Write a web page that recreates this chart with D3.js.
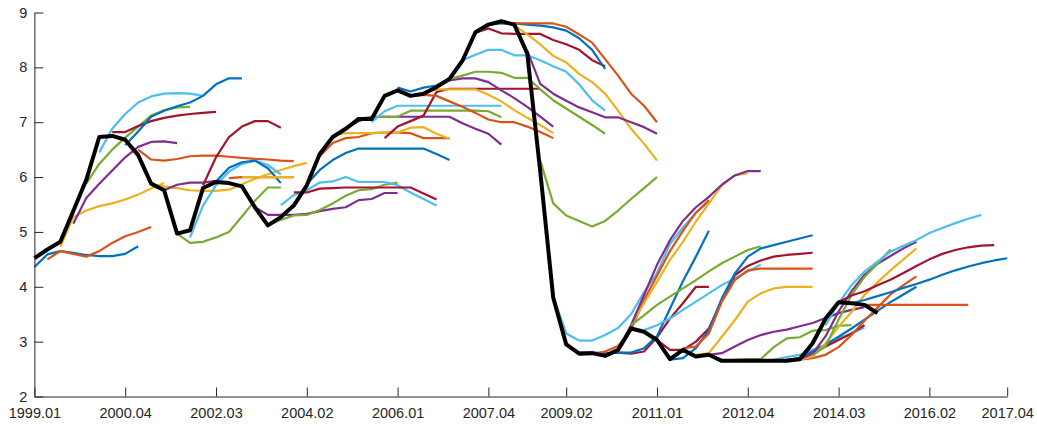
<!DOCTYPE html>
<html><head><meta charset="utf-8">
<script src="https://cdn.jsdelivr.net/npm/d3@7"></script>
<style>
html,body{margin:0;padding:0;background:#fff;}
svg{display:block;}
text{font-family:"Liberation Sans",Arial,Helvetica,sans-serif;}
</style></head>
<body>
<svg id="chart" width="1037" height="426"></svg>
<script>
// X tick positions (quarter index from 1999Q1) and labels
const tickQuarters = [0,7,14,21,28,35,41,48,55,62,69,75];
const tickLabels = ["1999.01","2000.04","2002.03","2004.02","2006.01","2007.04","2009.02","2011.01","2012.04","2014.03","2016.02","2017.04"];
const yTicks = [2,3,4,5,6,7,8,9];

// Actual rate (black), quarterly from 1999Q1
const actual = [4.52,4.68,4.82,5.38,5.95,6.73,6.75,6.68,6.4,5.88,5.76,4.97,5.03,5.8,5.91,5.89,5.83,5.45,5.12,5.27,
  5.48,5.85,6.42,6.73,6.88,7.06,7.06,7.48,7.58,7.48,7.52,7.64,7.79,8.12,8.64,8.78,8.84,8.78,8.25,6.1,
  3.8,2.95,2.78,2.79,2.74,2.85,3.24,3.18,3.03,2.68,2.85,2.73,2.76,2.65,2.65,2.65,2.65,2.65,2.65,2.68,
  2.97,3.42,3.72,3.7,3.67,3.52];

// Forecast tracks: start quarter of each track and its values
const forecastStart = [];
for (let k = 0; k <= 64; k++) forecastStart.push(k);
const forecastValues = [
  [4.36,4.59,4.65,4.62,4.58,4.56,4.56,4.6,4.74],
  [4.5,4.65,4.6,4.55,4.65,4.8,4.92,5.0,5.09],
  [4.73,5.27,5.39,5.47,5.52,5.59,5.68,5.79,5.89],
  [5.15,5.62,5.88,6.12,6.36,6.55,6.64,6.65,6.62],
  [5.88,6.24,6.5,6.72,6.92,7.12,7.22,7.27,7.28],
  [6.45,6.88,7.15,7.36,7.47,7.52,7.53,7.52,7.48],
  [6.82,6.82,6.93,7.02,7.08,7.12,7.15,7.17,7.19],
  [6.58,6.83,7.1,7.21,7.29,7.36,7.48,7.69,7.8,7.8],
  [6.5,6.32,6.3,6.33,6.38,6.39,6.39,6.37,6.35,6.33,6.32,6.3,6.29],
  [5.87,5.83,5.8,5.76,5.75,5.75,5.77,5.87,5.97,6.05,6.13,6.2,6.26],
  [5.76,5.86,5.9,5.9,5.93],
  [4.97,4.8,4.82,4.9,5.0,5.28,5.57,5.81,5.81],
  [4.9,5.48,5.85,6.1,6.24,6.3,6.22,6.05],
  [5.85,6.36,6.73,6.92,7.02,7.02,6.9],
  [5.92,6.17,6.27,6.3,6.16,5.89],
  [5.98,6.0,6.0,6.0,6.0,6.0],
  [6.0,6.0,6.0,6.0,6.0],
  [5.45,5.31,5.31,5.31,5.33,5.38,5.42,5.45,5.58,5.6,5.71,5.71],
  [5.12,5.22,5.3,5.31,5.4,5.52,5.66,5.76,5.78,5.86,5.9],
  [5.49,5.67,5.76,5.9,5.92,6.0,5.91,5.91,5.91,5.85,5.72,5.6,5.48],
  [5.72,5.72,5.79,5.8,5.81,5.81,5.81,5.81,5.81,5.81,5.7,5.59],
  [5.87,6.13,6.31,6.44,6.52,6.52,6.52,6.52,6.52,6.52,6.42,6.31],
  [6.38,6.62,6.71,6.73,6.8,6.81,6.81,6.8,6.71,6.71,6.71],
  [6.76,6.8,6.8,6.8,6.81,6.81,6.9,6.91,6.79,6.7],
  [6.88,7.02,7.1,7.1,7.1,7.1,7.1,7.1,7.1,6.98,6.88,6.79,6.59],
  [7.06,7.1,7.1,7.1,7.21,7.21,7.21,7.21,7.21,7.21,7.2,7.09],
  [7.0,7.2,7.3,7.3,7.3,7.3,7.3,7.3,7.3,7.3,7.3],
  [6.71,6.92,7.02,7.12,7.55,7.61,7.61,7.61,7.61,7.61,7.61,7.61,7.61],
  [7.63,7.56,7.63,7.67,7.8],
  [7.48,7.5,7.48,7.38,7.28,7.17,7.05,7.0,7.0,6.92,6.82,6.71],
  [7.55,7.6,7.6,7.6,7.6,7.5,7.38,7.22,7.08,6.95,6.8],
  [7.64,7.76,7.8,7.8,7.73,7.58,7.44,7.28,7.1,6.92],
  [7.79,7.85,7.92,7.92,7.9,7.81,7.81,7.6,7.4,7.25,7.1,6.95,6.79],
  [8.13,8.23,8.32,8.32,8.22,8.22,8.13,8.02,7.92,7.69,7.4,7.21],
  [8.63,8.71,8.62,8.61,8.61,8.61,8.5,8.42,8.32,8.13,8.02],
  [8.78,8.8,8.8,8.78,8.76,8.73,8.67,8.53,8.32,7.97],
  [8.8,8.8,8.8,8.8,8.8,8.74,8.6,8.45,8.15,7.85,7.52,7.3,7.0],
  [8.76,8.6,8.42,8.21,8.09,7.88,7.73,7.52,7.21,6.88,6.61,6.3],
  [8.3,7.7,7.52,7.39,7.27,7.18,7.09,7.09,7.0,6.91,6.79],
  [6.3,5.52,5.3,5.2,5.1,5.2,5.39,5.6,5.8,6.0],
  [3.82,3.15,3.02,3.02,3.12,3.25,3.5,3.9,4.25,4.78,5.08,5.35,5.55],
  [2.95,2.8,2.8,2.78,2.8,2.78,2.82,3.08,3.42,3.7,4.0,4.0],
  [2.8,2.8,2.78,2.8,2.8,2.88,3.1,3.6,4.1,4.55,5.02],
  [2.78,2.82,2.92,3.22,3.76,4.2,4.65,5.02,5.35,5.58],
  [2.75,2.85,3.3,3.7,4.09,4.49,4.82,5.19,5.52,5.85,6.03,6.07],
  [2.85,3.3,3.85,4.4,4.85,5.2,5.45,5.64,5.86,6.03,6.11,6.11],
  [3.3,3.48,3.67,3.82,3.97,4.12,4.28,4.43,4.55,4.67,4.74],
  [3.21,3.3,3.42,3.58,3.73,3.88,4.03,4.15,4.28,4.4],
  [3.03,2.85,2.85,3.0,3.24,3.76,4.21,4.38,4.48,4.55,4.58,4.6,4.62],
  [2.67,2.7,2.88,3.21,3.79,4.24,4.55,4.7,4.76,4.82,4.88,4.94],
  [2.88,2.91,3.15,3.73,4.12,4.3,4.33,4.33,4.33,4.33,4.33],
  [2.76,2.79,3.09,3.39,3.73,3.88,3.97,4.0,4.0,4.0],
  [2.76,2.79,2.91,3.03,3.12,3.18,3.22,3.28,3.34,3.43,3.52,3.58,3.63],
  [2.65,2.67,2.68,2.68,2.9,3.06,3.08,3.2,3.21,3.29,3.3],
  [2.65,2.65,2.65,2.67,2.72,2.76,2.85,2.94,3.06,3.15,3.26],
  [2.65,2.65,2.66,2.67,2.7,2.79,2.91,3.03,3.15,3.3],
  [2.65,2.65,2.66,2.7,2.82,2.95,3.09,3.24,3.4,3.56,3.72,3.86,4.0],
  [2.65,2.66,2.67,2.7,2.76,2.9,3.12,3.38,3.62,3.86,4.03,4.19],
  [2.65,2.67,2.73,2.97,3.27,3.54,3.85,4.08,4.3,4.5,4.7],
  [2.68,2.78,3.1,3.55,3.92,4.22,4.42,4.56,4.7,4.82],
  [2.75,2.92,3.4,3.85,4.18,4.42,4.68],
  [3.3,3.7,4.03,4.28,4.46,4.64,4.75,4.85,4.98,5.07,5.16,5.24,5.31],
  [3.72,3.84,3.92,4.03,4.13,4.25,4.38,4.5,4.6,4.67,4.72,4.75,4.76],
  [3.7,3.76,3.83,3.9,3.98,4.05,4.13,4.22,4.3,4.37,4.43,4.48,4.52],
  [3.67,3.67,3.67,3.67,3.67,3.67,3.67,3.67,3.67]
];

const palette = ["#0072BD","#D95319","#EDB120","#7E2F8E","#77AC30","#4DBEEE","#A2142F"];

const svg = d3.select("#chart");
const x = d3.scaleLinear().domain([0, 75]).range([34.4, 1007.2]);
const y = d3.scaleLinear().domain([2, 9]).range([396.5, 12.5]);

const line = d3.line().x(d => x(d[0])).y(d => y(d[1]));

const g = svg.append("g");
forecastValues.forEach((vals, k) => {
  const s = forecastStart[k];
  g.append("path")
    .datum(vals.map((v, i) => [s + i, v]))
    .attr("d", line)
    .attr("fill", "none")
    .attr("stroke", palette[k % 7])
    .attr("stroke-width", 2.2)
    .attr("stroke-linejoin", "round")
    .attr("stroke-linecap", "butt");
});

g.append("path")
  .datum(actual.map((v, i) => [i, v]))
  .attr("d", line)
  .attr("fill", "none")
  .attr("stroke", "#000")
  .attr("stroke-width", 4)
  .attr("stroke-linejoin", "round");

const axisColor = "#262626";
const yAxis = svg.append("g")
  .attr("transform", `translate(${x(0)},0)`)
  .call(d3.axisLeft(y).tickValues(yTicks).tickFormat(d3.format("d"))
    .tickSizeInner(-9).tickSizeOuter(0).tickPadding(7));
const xAxis = svg.append("g")
  .attr("transform", `translate(0,${y(2)})`)
  .call(d3.axisBottom(x).tickValues(tickQuarters).tickFormat((d, i) => tickLabels[i])
    .tickSizeInner(-9).tickSizeOuter(0).tickPadding(11));

[yAxis, xAxis].forEach(a => {
  a.selectAll("path.domain").attr("stroke", axisColor).attr("stroke-width", 1);
  a.selectAll(".tick line").attr("stroke", axisColor).attr("stroke-width", 1);
  a.selectAll("text").attr("fill", axisColor).style("font-size", "14.5px")
    .style("font-family", '"Liberation Sans", Arial, Helvetica, sans-serif');
});
</script>
</body></html>
